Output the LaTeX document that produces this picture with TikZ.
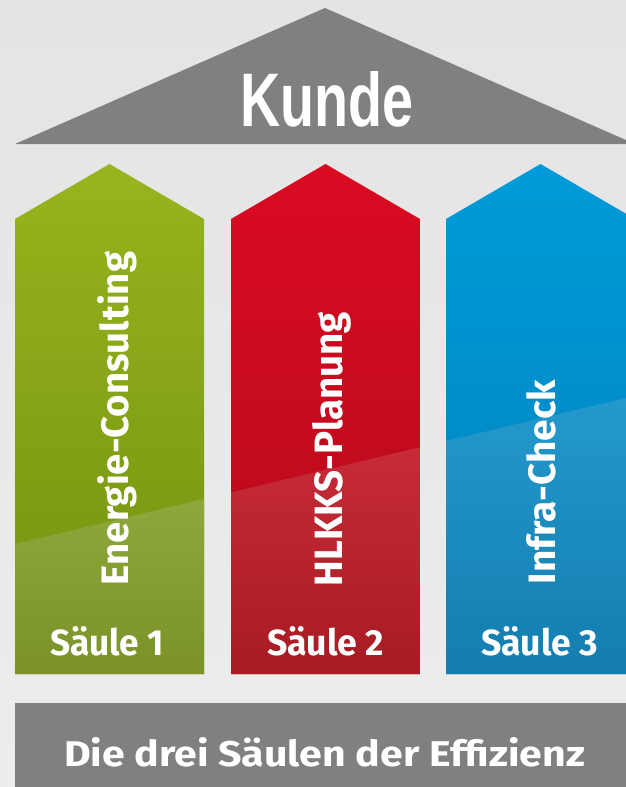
\documentclass[tikz,border=0pt]{standalone}
\usepackage{fontspec}
\usepackage{graphicx}
\setmainfont{Fira Sans}
\newfontfamily\kundefont{Liberation Sans}
\definecolor{bgtop}{HTML}{E4E4E4}
\definecolor{bgmid}{HTML}{DDDDDD}
\definecolor{bgbot}{HTML}{EDEDED}
\definecolor{roofgray}{HTML}{808080}
\definecolor{gtop}{HTML}{97B51D}
\definecolor{gbot}{HTML}{72900F}
\definecolor{gov}{HTML}{8EA83C}
\definecolor{govb}{HTML}{7A9227}
\definecolor{rtop}{HTML}{DA0A21}
\definecolor{rbot}{HTML}{B20C1B}
\definecolor{rov}{HTML}{C72B37}
\definecolor{rovb}{HTML}{A71B23}
\definecolor{btop}{HTML}{009BDA}
\definecolor{bbot}{HTML}{0081BC}
\definecolor{bov}{HTML}{2499CD}
\definecolor{bovb}{HTML}{137DAE}
\tikzset{
  label/.style={text=white, inner sep=0pt, outer sep=0pt, font=\bfseries},
  vlabel/.style={label, rotate=90, anchor=base west},
  hlabel/.style={label, anchor=base west}
}
\begin{document}
\begin{tikzpicture}[x=1bp,y=-1bp]
\useasboundingbox (0,0) rectangle (626,787);
\clip (0,0) rectangle (626,787);
% background
\shade[top color=bgtop, middle color=bgmid, bottom color=bgbot] (0,0) rectangle (626,787);
% roof
\fill[roofgray] (15,144) -- (325,8) -- (635,144) -- cycle;
\node[hlabel, font=\kundefont\bfseries] (kunde) at (240,126)
  {\resizebox{173bp}{55bp}{Kunde}};
% pillars
\foreach \L/\ct/\cb/\co/\cob in {15/gtop/gbot/gov/govb, 231/rtop/rbot/rov/rovb, 446/btop/bbot/bov/bovb}
{
  \shade[top color=\ct, bottom color=\cb]
    (\L,219) -- (\L+94.5,164) -- (\L+189,219) -- (\L+189,674) -- (\L,674) -- cycle;
  \shade[top color=\co, bottom color=\cob]
    (\L,{544-0.239*(\L-15)}) -- (\L+189,{544-0.239*(\L+174)}) -- (\L+189,674) -- (\L,674) -- cycle;
}
% vertical labels
\node[vlabel] (energie) at (128,585) {\resizebox{333bp}{31bp}{Energie-Consulting}};
\node[vlabel] (hlkks) at (342,586) {\resizebox{274bp}{30bp}{HLKKS-Planung}};
\node[vlabel] (infra) at (555,584) {\resizebox{204bp}{29bp}{Infra-Check}};
% pillar names
\node[hlabel] (s1) at (50,655) {\resizebox{114bp}{29bp}{Säule 1}};
\node[hlabel] (s2) at (267,655) {\resizebox{117bp}{29bp}{Säule 2}};
\node[hlabel] (s3) at (481,655) {\resizebox{117bp}{29bp}{Säule 3}};
% base
\fill[roofgray] (15,703) rectangle (640,790);
\node[hlabel] (base) at (64,766) {\resizebox{521bp}{29bp}{Die drei Säulen der Effizienz}};
\end{tikzpicture}
\end{document}
